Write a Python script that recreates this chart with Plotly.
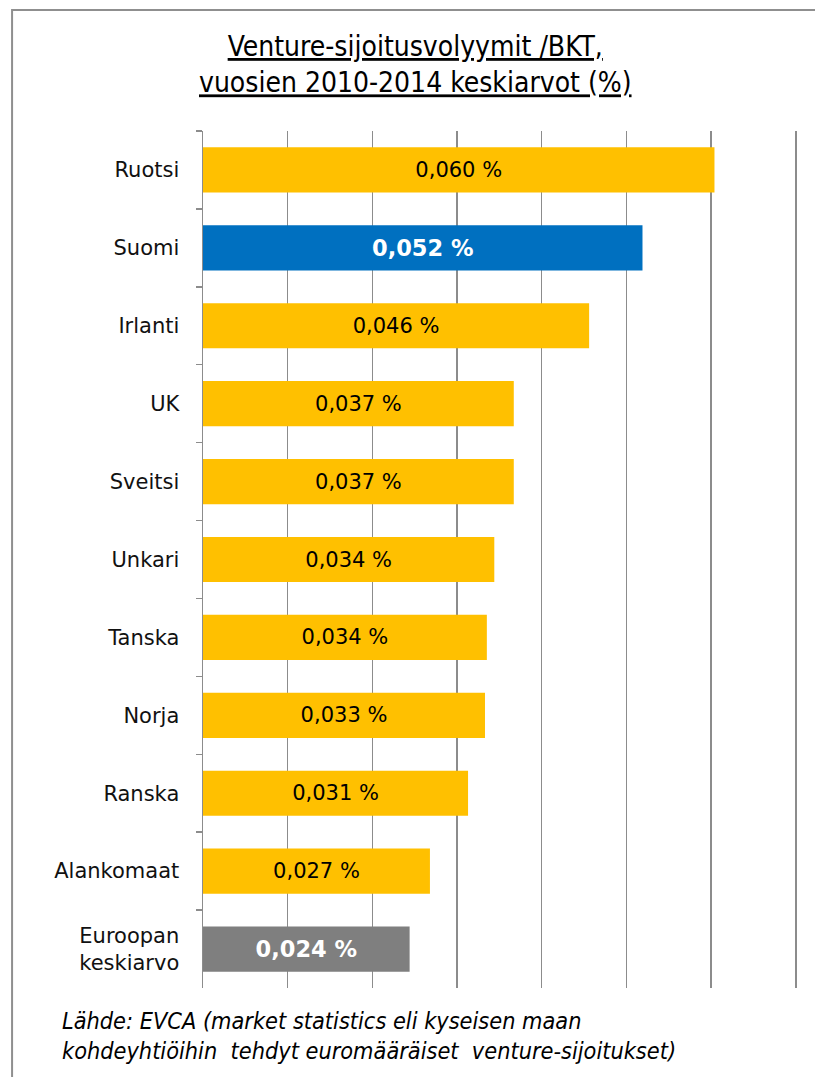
import plotly.graph_objects as go

categories = ["Ruotsi", "Suomi", "Irlanti", "UK", "Sveitsi", "Unkari", "Tanska",
              "Norja", "Ranska", "Alankomaat", "Euroopan<br>keskiarvo"]
values = [0.0604, 0.0519, 0.0456, 0.0367, 0.0367, 0.0344, 0.03352,
          0.0333, 0.0313, 0.0268, 0.0244]

YELLOW = "#FFC000"
BLUE = "#0070C0"
GREY = "#7F7F7F"

bar_colors = []
text_colors = []
text_sizes = []
texts = []
for cat, v in zip(categories, values):
    label = f"{v:.3f}".replace(".", ",") + " %"
    if cat == "Suomi":
        bar_colors.append(BLUE)
        text_colors.append("white")
        text_sizes.append(22.5)
        texts.append(f"<b>{label}</b>")
    elif cat.startswith("Euroopan"):
        bar_colors.append(GREY)
        text_colors.append("white")
        text_sizes.append(22.5)
        texts.append(f"<b>{label}</b>")
    else:
        bar_colors.append(YELLOW)
        text_colors.append("black")
        text_sizes.append(21)
        texts.append(label)

title_text = "<u>Venture-sijoitusvolyymit /BKT,</u><br><u>vuosien 2010-2014 keskiarvot (%)</u>"
note_text = ("<i>Lähde: EVCA (market statistics eli kyseisen maan</i><br>"
             "<i>kohdeyhtiöihin \u00a0tehdyt euromääräiset \u00a0venture-sijoitukset)</i>")

# page has an 8px body margin; work in page pixels and convert
OFF = 8
W, H = 815, 1069
XMAX = 0.0705
L = 203 - OFF
T = 131 - OFF
pw = 593 * XMAX / 0.07
ph = 857
R = W - L - pw
B = H - T - ph

def px(x):
    return (x - OFF - L) / pw

def py(y):
    return (T + ph - (y - OFF)) / ph

fig = go.Figure(go.Bar(
    y=categories,
    x=values,
    orientation="h",
    marker=dict(color=bar_colors, line=dict(width=0)),
    text=texts,
    textposition="inside",
    insidetextanchor="middle",
    textangle=0,
    constraintext="none",
    textfont=dict(family="DejaVu Sans", size=text_sizes, color=text_colors),
    hoverinfo="skip",
))

grid_col = "#8C8C8C"
fig.update_layout(
    width=W, height=H,
    margin=dict(l=L, r=R, t=T, b=B),
    paper_bgcolor="white",
    plot_bgcolor="white",
    bargap=0.42,
    showlegend=False,
    xaxis=dict(range=[0, XMAX], dtick=0.01, tick0=0, showgrid=True,
               gridcolor=grid_col, gridwidth=1.5, zeroline=False,
               showticklabels=False, ticks="", showline=False, fixedrange=True),
    yaxis=dict(autorange="reversed", showline=True, linecolor=grid_col, linewidth=1.5,
               ticks="outside", ticklen=6, tickcolor=grid_col, tickwidth=1.5,
               tickson="boundaries", ticklabelstandoff=18,
               tickfont=dict(family="DejaVu Sans", size=21, color="#111111"),
               showgrid=False, fixedrange=True),
    annotations=[
        dict(text=title_text, xref="paper", yref="paper", x=px(416), y=py(64),
             xanchor="center", yanchor="middle", showarrow=False, align="center",
             font=dict(family="DejaVu Sans Condensed", size=28, color="black")),
        dict(text=note_text, xref="paper", yref="paper", x=px(60), y=py(1035),
             xanchor="left", yanchor="middle", showarrow=False, align="left",
             font=dict(family="DejaVu Sans Condensed", size=23.3, color="black")),
    ],
    shapes=[
        dict(type="rect", xref="paper", yref="paper",
             x0=px(12), x1=px(820), y0=py(1100), y1=py(10),
             line=dict(color="#8F8F8F", width=2), fillcolor="rgba(0,0,0,0)",
             layer="below"),
    ],
)

fig.write_html("out.html", config={"displayModeBar": False, "staticPlot": True})
